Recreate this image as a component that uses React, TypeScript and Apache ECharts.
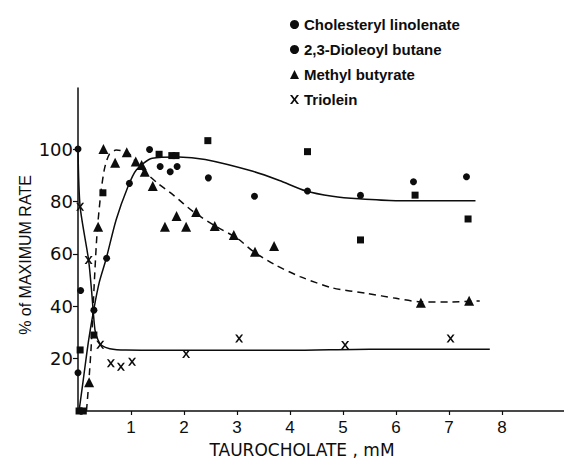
import React, { useEffect, useRef } from "react";
import * as echarts from "echarts";

// ---- Data ----
const X_TICKS = [1, 2, 3, 4, 5, 6, 7, 8];
const Y_TICKS = [20, 40, 60, 80, 100];

const SERIES_NAMES = [
  "Cholesteryl linolenate",
  "2,3-Dioleoyl butane",
  "Methyl butyrate",
  "Triolein",
];

// Cholesteryl linolenate (filled squares)
const cholesterylPts: [number, number][] = [
  [0.02, 0], [0.1, 0], [0.04, 23.3], [0.3, 29], [0.47, 83.3], [1.53, 98],
  [1.77, 97.5], [1.85, 97.5], [2.45, 103.2], [4.33, 99], [5.33, 65.3],
  [6.36, 82.4], [7.36, 73.3],
];

// 2,3-Dioleoyl butane (filled circles)
const dioleoylPts: [number, number][] = [
  [0, 100], [0.05, 46], [0, 14.6], [0.06, 0], [0.3, 38.5], [0.54, 58.3],
  [0.97, 86.9], [1.35, 99.8], [1.55, 93.3], [1.74, 91.3], [1.87, 93.3],
  [2.46, 89], [3.33, 82], [4.33, 84], [5.33, 82.3], [6.33, 87.5], [7.33, 89.4],
];

// Methyl butyrate (filled triangles)
const methylPts: [number, number][] = [
  [0.21, 11], [0.38, 70.3], [0.48, 100], [0.7, 94.8], [0.92, 98.8],
  [1.09, 95.2], [1.2, 93.9], [1.26, 91.3], [1.41, 85.9], [1.64, 70.3],
  [1.86, 74.4], [2.04, 70.3], [2.23, 76], [2.58, 70.6], [2.94, 67.2],
  [3.34, 60.8], [3.7, 63], [6.47, 41.3], [7.38, 42.1],
];

// Triolein (x marks)
const trioleinPts: [number, number][] = [
  [0.04, 78], [0.2, 57.6], [0.42, 25.3], [0.62, 18.2], [0.81, 16.9],
  [1.02, 18.8], [2.04, 21.8], [3.04, 27.7], [5.04, 25.2], [7.03, 27.7],
];

// Hand-drawn curves
const sterolCurve: [number, number][] = [
  [0.02, 0], [0.1, 12], [0.2, 27], [0.3, 39], [0.4, 49], [0.53, 58],
  [0.72, 73], [0.94, 85.5], [1.1, 92], [1.4, 96.5], [1.9, 97], [2.4, 96],
  [3.3, 91.5], [3.8, 88], [4.3, 84], [4.8, 82], [5.3, 81], [6, 80.3], [7.5, 80.3],
];
const butyrateCurve: [number, number][] = [
  [0.16, 0], [0.2, 10], [0.25, 25], [0.31, 50], [0.36, 68], [0.43, 83],
  [0.5, 92.5], [0.59, 98], [0.72, 99.6], [0.94, 98.7], [1.17, 93], [1.5, 87],
  [1.8, 82.4], [2.18, 76], [2.6, 70.5], [3.0, 66], [3.3, 61], [3.7, 56],
  [4.19, 51.3], [4.8, 47], [5.45, 44.9], [6.0, 43], [6.45, 41.7], [7.0, 41.6], [7.58, 42],
];
const trioleinCurve: [number, number][] = [
  [0, 100], [0.04, 78], [0.2, 57.6], [0.26, 45], [0.32, 31], [0.38, 27],
  [0.45, 25], [0.6, 23.8], [0.9, 23.3], [2, 23.2], [4, 23.2], [5.5, 23.6], [7.77, 23.6],
];

const X_PATH =
  "path://M0,0L2.4,0L5,3.5L7.6,0L10,0L6.3,5L10,10L7.6,10L5,6.5L2.4,10L0,10L3.7,5Z";

const INK = "#0d0d0d";

export default function App() {
  const ref = useRef<HTMLDivElement>(null);

  useEffect(() => {
    if (!ref.current) return;
    const chart = echarts.init(ref.current, undefined, { renderer: "svg" });

    const scatter = (name: string, data: [number, number][], symbol: string, size: number) => ({
      name,
      type: "scatter",
      data,
      symbol,
      symbolSize: size,
      itemStyle: { color: INK, opacity: 1 },
      z: 3,
    });
    const curve = (name: string, data: [number, number][], dashed: boolean) => ({
      name,
      type: "line",
      data,
      symbol: "none",
      smooth: 0.25,
      silent: true,
      lineStyle: { color: INK, width: 1.5, type: dashed ? [7, 5] : "solid" },
      z: 2,
    });

    chart.setOption({
      animation: false,
      backgroundColor: "#ffffff",
      textStyle: { fontFamily: "Liberation Sans", color: INK },
      grid: { left: 78, right: 0, top: 88, bottom: 55, containLabel: false },
      legend: {
        orient: "vertical",
        left: 285,
        top: 12,
        itemWidth: 9,
        itemHeight: 9,
        itemGap: 10,
        selectedMode: false,
        textStyle: { fontFamily: "Liberation Sans", fontSize: 15, fontWeight: "bold", color: INK },
        itemStyle: { opacity: 1 },
        data: [
          { name: SERIES_NAMES[0], icon: "circle" },
          { name: SERIES_NAMES[1], icon: "circle" },
          { name: SERIES_NAMES[2], icon: "triangle" },
          { name: SERIES_NAMES[3], icon: X_PATH },
        ],
      },
      xAxis: {
        type: "value",
        min: 0,
        max: 9.17,
        name: "TAUROCHOLATE , mM",
        nameLocation: "middle",
        nameGap: 30,
        nameMoveOverlap: false,
        nameTextStyle: { fontFamily: "DejaVu Sans", fontSize: 17, color: INK, padding: [0, 38, 0, 0] },
        axisLine: { show: true, onZero: false, lineStyle: { color: INK, width: 1.5 } },
        axisTick: { show: true, customValues: X_TICKS, length: 4, lineStyle: { color: INK, width: 1.2 } },
        axisLabel: { customValues: X_TICKS, fontSize: 17, margin: 8, color: INK },
        splitLine: { show: false },
      },
      yAxis: {
        type: "value",
        min: 0,
        max: 123.3,
        name: "% of MAXIMUM RATE",
        nameLocation: "middle",
        nameGap: 45,
        nameMoveOverlap: false,
        nameTextStyle: { fontSize: 16, color: INK, padding: [0, 11, 0, 0] },
        axisLine: { show: true, onZero: false, lineStyle: { color: INK, width: 1.5 } },
        axisTick: { show: true, customValues: Y_TICKS, length: 5, lineStyle: { color: INK, width: 1.2 } },
        axisLabel: { customValues: Y_TICKS, fontFamily: "DejaVu Sans", fontSize: 18, margin: 5, color: INK },
        splitLine: { show: false },
      },
      series: [
        curve("fit-sterol", sterolCurve, false),
        curve("fit-butyrate", butyrateCurve, true),
        curve("fit-triolein", trioleinCurve, false),
        scatter(SERIES_NAMES[0], cholesterylPts, "rect", 7),
        scatter(SERIES_NAMES[1], dioleoylPts, "circle", 7),
        scatter(SERIES_NAMES[2], methylPts, "triangle", 10),
        scatter(SERIES_NAMES[3], trioleinPts, X_PATH, 8),
      ],
    });

    return () => chart.dispose();
  }, []);

  return (
    <div
      ref={ref}
      style={{ position: "absolute", left: 0, top: 0, width: 564, height: 466, background: "#fff" }}
    />
  );
}
